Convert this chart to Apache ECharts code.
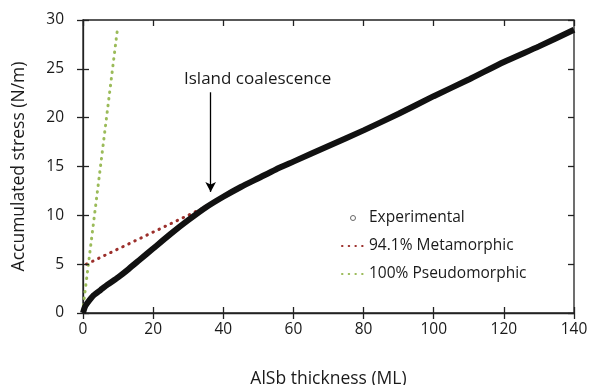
<!DOCTYPE html>
<html>
<head>
<meta charset="utf-8">
<script src="https://cdn.jsdelivr.net/npm/echarts@6/dist/echarts.min.js"></script>
<style>
  html, body { margin: 0; padding: 0; background: #fff; }
  #chart { width: 590px; height: 385px; }
</style>
</head>
<body>
<div id="chart"></div>
<script>
// values
const expX = [0, 0.5, 1.4, 3, 5, 7, 10, 13, 16, 20, 25, 30, 35, 40, 45, 50, 55, 60, 70, 80, 90, 100, 110, 120, 130, 140];
const expY = [0, 0.6, 1.1, 1.8, 2.35, 2.9, 3.65, 4.5, 5.4, 6.6, 8.1, 9.5, 10.8, 11.9, 12.9, 13.8, 14.7, 15.5, 17.1, 18.7, 20.4, 22.2, 23.9, 25.7, 27.3, 29.0];
const metaX = [1, 34];
const metaY = [5.0, 10.7];
const pseudoX = [0.1, 9.8];
const pseudoY = [0.8, 29.0];
const arrowX = [36.4, 36.4];
const arrowY = [22.6, 12.4];
const xTickValues = [0, 20, 40, 60, 80, 100, 120, 140];
const yTickValues = [0, 5, 10, 15, 20, 25, 30];

const font = '"Open Sans", sans-serif';
const ink = '#1a1a1a';
const axisColor = '#222';
const xMin = xTickValues[0], xMax = xTickValues[xTickValues.length - 1];
const yMin = yTickValues[0], yMax = yTickValues[yTickValues.length - 1];

function pairs(xs, ys) {
    return xs.map((x, i) => [x, ys[i]]);
}

// inner tick marks on all four sides of the frame, drawn as short markLines
// going 6px inward from each tick value on the frame
const innerTicks = [];
for (const v of xTickValues) {
    innerTicks.push([{ coord: [v, yMin] }, { coord: [v, yMin + 6 / 9.75] }]);
    innerTicks.push([{ coord: [v, yMax] }, { coord: [v, yMax - 6 / 9.75] }]);
}
for (const v of yTickValues) {
    innerTicks.push([{ coord: [xMin, v] }, { coord: [xMin + 6 / 3.51, v] }]);
    innerTicks.push([{ coord: [xMax, v] }, { coord: [xMax - 6 / 3.51, v] }]);
}

const chart = echarts.init(document.getElementById('chart'));
chart.setOption({
    animation: false,
    grid: {
        left: 83, right: 16, top: 20, bottom: 72,
        outerBoundsMode: 'none', containLabel: false,
        show: true, borderColor: axisColor, borderWidth: 1.3, backgroundColor: 'transparent'
    },
    xAxis: {
        type: 'value',
        min: xMin,
        max: xMax,
        interval: 20,
        name: 'AlSb thickness (ML)',
        nameLocation: 'middle',
        nameGap: 57,
        nameTextStyle: { color: ink, fontFamily: font, fontSize: 17.5 },
        axisLine: { show: true, onZero: false, lineStyle: { color: axisColor, width: 1.3 } },
        axisTick: { show: true, length: 6, lineStyle: { color: axisColor, width: 1.3 } },
        axisLabel: { color: ink, fontFamily: font, fontSize: 15.5, margin: 9 },
        splitLine: { show: false }
    },
    yAxis: {
        type: 'value',
        min: yMin,
        max: yMax,
        interval: 5,
        name: 'Accumulated stress (N/m)',
        nameLocation: 'middle',
        nameGap: 55,
        nameTextStyle: { color: ink, fontFamily: font, fontSize: 17.5 },
        axisLine: { show: true, onZero: false, lineStyle: { color: axisColor, width: 1.3 } },
        axisTick: { show: true, length: 6, lineStyle: { color: axisColor, width: 1.3 } },
        axisLabel: { color: ink, fontFamily: font, fontSize: 15.5, margin: 19 },
        splitLine: { show: false }
    },
    legend: {
        orient: 'vertical',
        left: 341,
        top: 210,
        padding: 0,
        itemWidth: 22,
        itemHeight: 5,
        itemGap: 12,
        textStyle: { color: ink, fontFamily: font, fontSize: 15.5 },
        data: [
            { name: 'Experimental', icon: 'circle', itemStyle: { color: '#fff', borderColor: '#666', borderWidth: 1 } },
            { name: '94.1% Metamorphic', itemStyle: { color: 'transparent', borderWidth: 0 } },
            { name: '100% Pseudomorphic', itemStyle: { color: 'transparent', borderWidth: 0 } }
        ]
    },
    graphic: [{
        type: 'text',
        left: 184,
        top: 71,
        style: { text: 'Island coalescence', fill: ink, font: '17px ' + font }
    }],
    series: [
        {
            name: 'Experimental',
            type: 'line',
            symbol: 'none',
            smooth: 0.2,
            lineStyle: { color: '#111', width: 6 },
            itemStyle: { color: '#111' },
            data: pairs(expX, expY),
            z: 5
        },
        {
            name: '94.1% Metamorphic',
            type: 'line',
            symbol: 'none',
            lineStyle: { color: '#9c2f2b', width: 3, type: [0.5, 6.2], cap: 'round' },
            itemStyle: { color: '#9c2f2b' },
            data: pairs(metaX, metaY),
            z: 3
        },
        {
            name: '100% Pseudomorphic',
            type: 'line',
            symbol: 'none',
            lineStyle: { color: '#9bbb59', width: 3, type: [0.5, 6.2], cap: 'round' },
            itemStyle: { color: '#9bbb59' },
            data: pairs(pseudoX, pseudoY),
            z: 3
        },
        {
            name: 'arrow',
            type: 'line',
            symbol: 'none',
            lineStyle: { opacity: 0 },
            data: [],
            markLine: {
                silent: true,
                symbol: ['none', 'arrow'],
                symbolSize: [8, 10],
                label: { show: false },
                lineStyle: { color: '#000', width: 1.3, type: 'solid' },
                data: [[
                    { coord: [arrowX[0], arrowY[0]] },
                    { coord: [arrowX[1], arrowY[1]] }
                ]]
            }
        },
        {
            name: 'ticks',
            type: 'line',
            symbol: 'none',
            lineStyle: { opacity: 0 },
            data: [],
            markLine: {
                silent: true,
                symbol: ['none', 'none'],
                label: { show: false },
                lineStyle: { color: axisColor, width: 1.3, type: 'solid' },
                data: innerTicks
            }
        }
    ]
});
</script>
</body>
</html>
